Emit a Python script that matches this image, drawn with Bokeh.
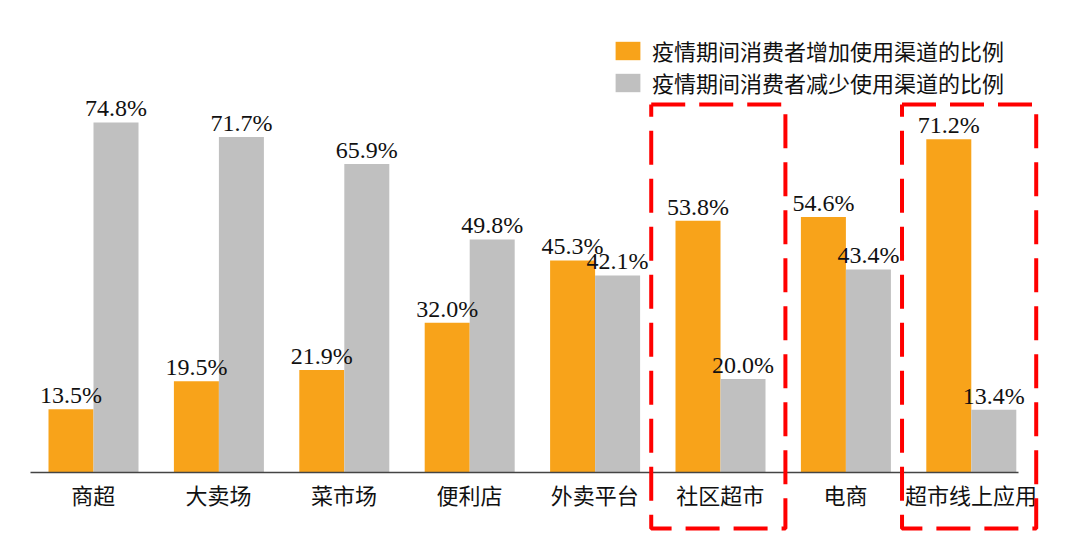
from bokeh.plotting import figure
from bokeh.models import ColumnDataSource, Legend, LegendItem, Range1d
from bokeh.core.properties import value
from bokeh.embed import file_html
from bokeh.resources import INLINE

categories = ["商超", "大卖场", "菜市场", "便利店", "外卖平台", "社区超市", "电商", "超市线上应用"]
increase = [13.5, 19.5, 21.9, 32.0, 45.3, 53.8, 54.6, 71.2]
decrease = [74.8, 71.7, 65.9, 49.8, 42.1, 20.0, 43.4, 13.4]
series_names = ["疫情期间消费者增加使用渠道的比例", "疫情期间消费者减少使用渠道的比例"]
highlighted = ["社区超市", "超市线上应用"]

ORANGE = "#F8A31A"
GRAY = "#C0C0C0"
CJK = "Noto Sans CJK SC"
SERIF = "Liberation Serif"

W, H = 1080, 560
px_x = 125.4   # px per category
px_y = 4.68    # px per percent
x0_px, base_px = 30, 472

p = figure(width=W, height=H, output_backend="svg", toolbar_location=None,
           x_range=Range1d(-x0_px / px_x, (W - x0_px) / px_x),
           y_range=Range1d(-(H - base_px) / px_y, base_px / px_y),
           min_border=0, min_border_left=0, min_border_right=0,
           min_border_top=0, min_border_bottom=0)
p.axis.visible = False
p.grid.visible = False
p.outline_line_color = None
p.background_fill_color = "white"

bw = 45 / px_x
off = 18 / px_x
idx = list(range(len(categories)))
src = ColumnDataSource(dict(
    xo=[i + off + bw / 2 for i in idx],
    xg=[i + off + bw * 1.5 for i in idx],
    inc=increase, dec=decrease,
    inc_lbl=[f"{v:.1f}%" for v in increase],
    dec_lbl=[f"{v:.1f}%" for v in decrease],
    xc=[i + 0.5 for i in idx],
    cat=categories,
))

r1 = p.vbar(x="xo", top="inc", width=bw, bottom=0, source=src, fill_color=ORANGE, line_color=None)
r2 = p.vbar(x="xg", top="dec", width=bw, bottom=0, source=src, fill_color=GRAY, line_color=None)

# baseline
p.segment(x0=[0], y0=[0], x1=[(1018 - x0_px) / px_x], y1=[0], line_color="#444444", line_width=1.5)

# value labels
p.text(x="xo", y="inc", text="inc_lbl", source=src, text_align="center", text_baseline="bottom",
       y_offset=-1, text_font=value(SERIF), text_font_size="24px", text_color="#111111")
p.text(x="xg", y="dec", text="dec_lbl", source=src, text_align="center", text_baseline="bottom",
       y_offset=-1, text_font=value(SERIF), text_font_size="24px", text_color="#111111")

# category labels
p.text(x="xc", y=0, text="cat", source=src, text_align="center", text_baseline="middle",
       y_offset=21, text_font=value(CJK), text_font_size="22px", text_color="#111111")

# red dashed highlight boxes
for c in highlighted:
    i = categories.index(c)
    xl, xr = i - 0.05, i + 1.02
    yt, yb = (base_px - 104) / px_y, -(528 - base_px) / px_y
    p.line(x=[xl, xr, xr, xl, xl], y=[yt, yt, yb, yb, yt], line_color="#FF0000",
           line_width=4, line_dash="34 14")

legend = Legend(items=[LegendItem(label=series_names[0], renderers=[r1]),
                       LegendItem(label=series_names[1], renderers=[r2])],
                location=(612, 462), orientation="vertical",
                glyph_width=31, glyph_height=23, spacing=0, padding=0, margin=0,
                label_standoff=9, label_text_font=CJK, label_text_font_size="22px",
                label_text_color="#111111", border_line_color=None, background_fill_alpha=0)
p.add_layout(legend)

open("out.html", "w").write(file_html(p, INLINE))
